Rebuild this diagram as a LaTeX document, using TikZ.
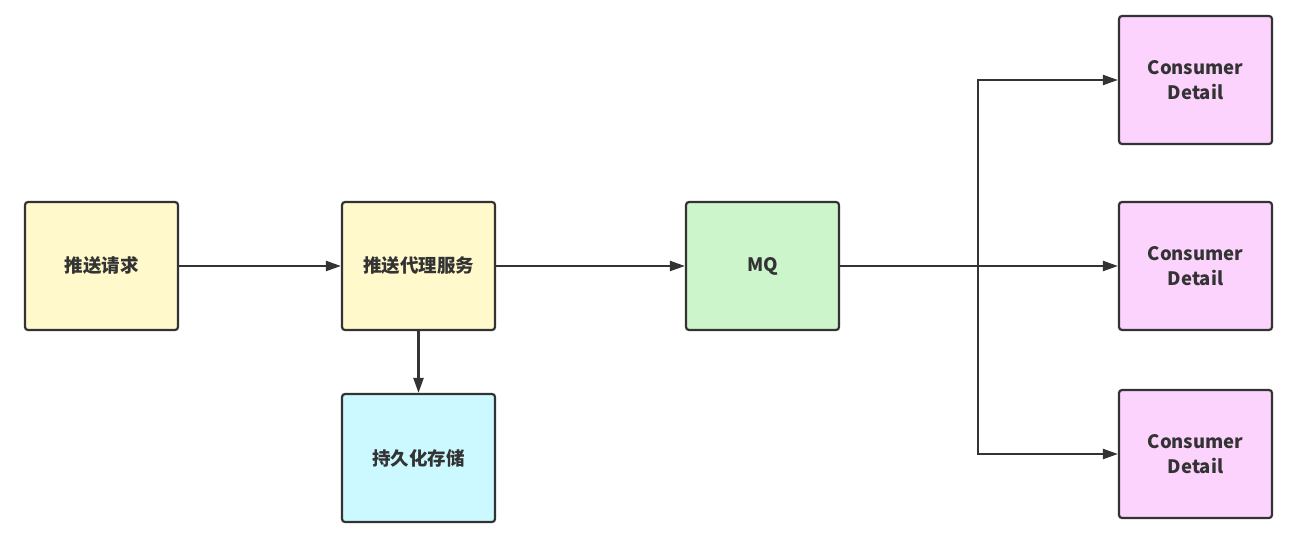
\documentclass[tikz,border=0pt]{standalone}
\usepackage{fontspec}
\setmainfont{Noto Sans CJK SC}
\usetikzlibrary{arrows.meta}
\definecolor{ink}{HTML}{333333}
\definecolor{cream}{HTML}{FFF9CC}
\definecolor{mint}{HTML}{CCF5CC}
\definecolor{sky}{HTML}{CCF9FF}
\definecolor{pinky}{HTML}{FCD3FD}

\begin{document}
\begin{tikzpicture}[x=1pt,y=-1pt,>={Triangle[length=15pt,width=10pt]},line width=2.2pt,
  every node/.style={font=\fontsize{18.5}{25}\selectfont\bfseries,text=ink},
  box/.style={draw=ink,rounded corners=3pt,minimum width=153pt,minimum height=128pt,align=center,inner sep=0pt}]
  \useasboundingbox (0,0) rectangle (1301,535);
  \node[box,fill=cream] (req) at (101.5,266) {推送请求};
  \node[box,fill=cream] (proxy) at (418.5,266) {推送代理服务};
  \node[box,fill=sky] (store) at (418.5,458) {持久化存储};
  \node[box,fill=mint] (mq) at (762.5,266) {MQ};
  \node[box,fill=pinky] (c1) at (1195.5,80) {Consumer\\Detail};
  \node[box,fill=pinky] (c2) at (1195.5,266) {Consumer\\Detail};
  \node[box,fill=pinky] (c3) at (1195.5,454) {Consumer\\Detail};
  \coordinate (split) at (978,266);
  \draw[->,ink] (req) -- (proxy);
  \draw[->,ink] (proxy) -- (mq);
  \draw[->,ink] (proxy) -- (store);
  \draw[ink] (mq) -- (split);
  \draw[->,ink] (split) -- (c2);
  \draw[->,ink] (split) |- (c1);
  \draw[->,ink] (split) |- (c3);
\end{tikzpicture}
\end{document}
